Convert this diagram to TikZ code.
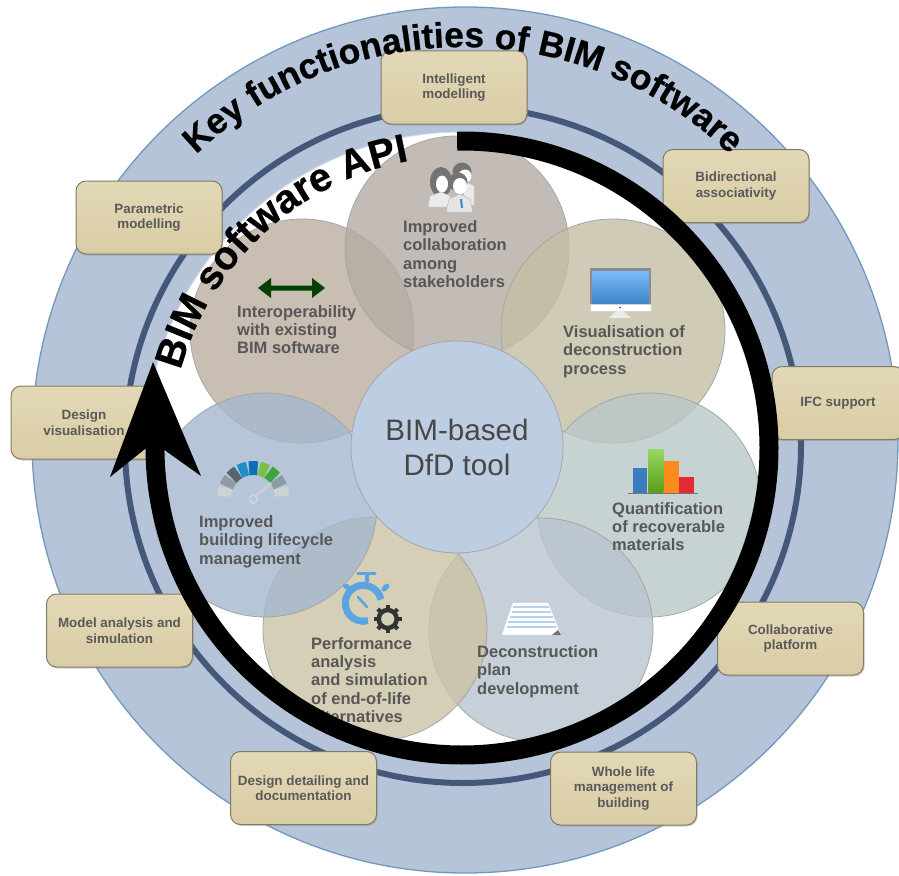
\documentclass[tikz,border=0pt]{standalone}
\usepackage{fontspec}
\setmainfont{Liberation Sans}
\newfontfamily\heavy[BoldFeatures={FakeBold=0.6}]{Liberation Sans}
\usetikzlibrary{shadows,decorations.text,calc}
\definecolor{annulus}{HTML}{B5C4D8}
\definecolor{annulusedge}{HTML}{7397BE}
\definecolor{darkring}{HTML}{44597A}
\definecolor{boxtop}{HTML}{E3D8B6}
\definecolor{boxbot}{HTML}{D9CDA6}
\definecolor{pA}{RGB}{188,174,159}
\definecolor{pB}{RGB}{180,172,164}
\definecolor{pC}{RGB}{197,190,165}
\definecolor{pD}{RGB}{186,199,199}
\definecolor{pE}{RGB}{186,196,207}
\definecolor{pF}{RGB}{204,195,166}
\definecolor{pG}{RGB}{164,184,207}
\definecolor{centre}{HTML}{BDCEE2}
\definecolor{watch}{HTML}{5AA5E0}
\definecolor{gLight}{HTML}{CDD2D2}
\definecolor{gMid}{HTML}{8C9BA4}
\definecolor{gDark}{HTML}{56646E}
\definecolor{gBlueA}{HTML}{1E8FCB}
\definecolor{gBlueB}{HTML}{0B70B8}
\definecolor{gGreenA}{HTML}{7DBE4B}
\definecolor{gGreenB}{HTML}{3FA33F}
\definecolor{scrTop}{HTML}{7ABCF8}
\definecolor{scrBot}{HTML}{3E86C8}
\definecolor{barB}{HTML}{3A7CC0}
\definecolor{barG}{HTML}{6FC61E}
\definecolor{barO}{HTML}{FA8C1E}
\definecolor{barR}{HTML}{E62830}
\definecolor{stripe}{HTML}{B4D2EE}
\tikzset{
  fbox/.style={draw=black!40!boxbot,line width=1pt,rounded corners=10pt,top color=boxtop,bottom color=boxbot,
    minimum width=146pt,minimum height=73pt,inner sep=0pt,align=center,text=black!65,
    font=\fontsize{13.4}{15.5}\selectfont\bfseries,
    drop shadow={shadow xshift=1pt,shadow yshift=-1.5pt,opacity=.35}},
  petal/.style={circle,draw=black!35,line width=.8pt,fill opacity=.8,minimum size=224pt,inner sep=0pt},
  ptext/.style={anchor=west,align=left,inner sep=0pt,text=black!66,font=\fontsize{16.5}{18.4}\selectfont\bfseries},
  bigtext/.style={decorate,decoration={text along path,text align=center,text={#1}}}
}
\begin{document}
\begin{tikzpicture}[x=1pt,y=-1pt]
\useasboundingbox (0,0) rectangle (899,875);
\begin{scope}
\clip (0,0) rectangle (899,875);
\coordinate (oc) at (465,440);
\coordinate (rc) at (463,445);
\coordinate (wc) at (462,448);
\coordinate (tc) at (463,432);
% rings
\node[circle,draw=annulusedge,line width=1.3pt,fill=annulus,minimum size=866pt,inner sep=0pt] (outer) at (oc) {};
\node[circle,draw=darkring,line width=6pt,minimum size=676pt,inner sep=0pt] (ring) at (rc) {};
\node[circle,draw=annulus!60!white,line width=1pt,fill=white,minimum size=632pt,inner sep=0pt] (disc) at (wc) {};
% petals
\node[petal,fill=pA] (interop) at (302,331) {};
\node[petal,fill=pB] (collab) at (457,248) {};
\node[petal,fill=pC] (vis) at (613,331) {};
\node[petal,fill=pD] (quant) at (649,505) {};
\node[petal,fill=pE] (decon) at (541,630) {};
\node[petal,fill=pF] (perf) at (375,629) {};
\node[petal,fill=pG] (life) at (265,505) {};
\node[circle,draw=black!35,line width=.8pt,fill=centre,minimum size=212pt,inner sep=0pt,align=center,text=black!72,
  font=\fontsize{29.6}{35}\selectfont] (hub) at (457,447) {BIM-based\\DfD tool};
% petal texts
\node[ptext] (t1) at (237,329.5) {Interoperability\\with existing\\BIM software};
\node[ptext] (t2) at (403,254) {Improved\\collaboration\\among\\stakeholders};
\node[ptext] (t3) at (563,351.5) {Visualisation of\\deconstruction\\process};
\node[ptext] (t4) at (612,526.5) {Quantification\\of recoverable\\materials};
\node[ptext] (t5) at (477,671.5) {Deconstruction\\plan\\development};
\node[ptext] (t6) at (311,680) {Performance\\analysis\\and simulation\\of end-of-life\\alternatives};
\node[ptext] (t7) at (199,541.5) {Improved\\building lifecycle\\management};
% double arrow icon
\fill[green!25!black] (258,288) -- (271,278) -- (271,285.5) -- (312,285.5) -- (312,278) -- (325,288) -- (312,298) -- (312,290.5) -- (271,290.5) -- (271,298) -- cycle;
% people icon
\fill[black!55] (462,172) circle[radius=9.5pt];
\fill[white] (465,176) circle[radius=6.5pt];
\filldraw[fill=black!8,draw=black!25] (462,180) -- (474,186) -- (474,205) -- (465,205) -- cycle;
\fill[black!55] (441,182) ellipse[x radius=11pt,y radius=15pt];
\fill[white] (442,184) ellipse[x radius=6pt,y radius=8.5pt];
\filldraw[fill=black!8,draw=black!25] (428,207) -- (430,196) -- (441,192) -- (450,196) -- (452,207) -- cycle;
\filldraw[fill=black!10,draw=black!30] (446,212) -- (449,199) -- (460,194) -- (470,199) -- (473,212) -- cycle;
\fill[black!55] (458,182) circle[radius=9.5pt];
\fill[white] (460,186) ellipse[x radius=7pt,y radius=8pt];
\draw[scrBot,line width=2pt] (461,199) -- (462,208);
% monitor icon
\fill[black!45] (590,268) rectangle (651,305);
\shade[top color=scrTop,bottom color=scrBot] (592,271) rectangle (649,303);
\fill[white,draw=black!18] (590,304) rectangle (651,311);
\fill[white!92!black] (616,311) -- (623,311) -- (631,318) -- (609,318) -- cycle;
\fill[black!70] (620,307.5) circle[radius=1pt];
% bar chart icon
\fill[barB] (632.7,468) rectangle (647.3,492.5);
\shade[top color=barG!70!white,bottom color=barG!80!black] (648.3,449) rectangle (663.3,492.5);
\fill[barO] (664,461) rectangle (678.7,492.5);
\fill[barR] (679.3,476.7) rectangle (694.3,492.5);
\draw[black!55,line width=1pt] (627.7,493) -- (698.3,493);
% document icon
\filldraw[fill=white,draw=white!85!black] (512.7,602.7) -- (548.3,602.7) -- (561,635) -- (501.7,635) -- cycle;
\foreach \yy/\xa/\xb in {607/513/549,612/512/551,617/510/553,622/508/555,627/507/556}
  \draw[stripe,line width=2.6pt] (\xa,\yy) -- (\xb,\yy);
\fill[black!55] (552,635) -- (561,635) -- (558,630) -- cycle;
% gauge icon
\coordinate (gc) at (253.3,497);
\foreach \ang/\col in {170/gLight,150/gMid,130/gDark,110/gBlueA,90/gBlueB,70/gGreenA,50/gGreenB,30/gMid,10/gLight}
  \draw[\col,line width=14pt] ([shift={(gc)}]\ang+8.5:29pt) arc[start angle=\ang+8.5,end angle=\ang-8.5,radius=29pt];
\draw[gLight,line width=2.5pt] (271,483) -- (256,496);
\draw[gLight,line width=2pt] (253.5,499) circle[radius=4pt];
% stopwatch icon
\draw[watch,line width=7pt] ([shift={(363.3,603.3)}]12:18pt) arc[start angle=12,end angle=285,radius=18pt];
\draw[watch,line width=3.5pt,line cap=round] (358,573.5) -- (375,573.5);
\draw[watch,line width=4pt] (366.7,574) -- (366.7,582);
\draw[watch,line width=5pt,line cap=round] (345.5,586) -- (349,588);
\draw[watch,line width=5pt,line cap=round] (384,589) -- (387,586);
\draw[watch,line width=2.5pt,line cap=round] (358,597) -- (367,607);
\draw[black!80,line width=4.5pt] (387.7,619) circle[radius=9pt];
\foreach \ang in {0,45,...,315}
  \draw[black!80,line width=4pt] ([shift={(387.7,619)}]\ang:10pt) -- ([shift={(387.7,619)}]\ang:14pt);
% boxes
\node[fbox] (b1) at (454,87.5) {Intelligent\\modelling};
\node[fbox] (b2) at (736,186) {Bidirectional\\associativity};
\node[fbox,minimum width=132pt] (b3) at (838,403) {IFC support};
\node[fbox] (b4) at (790.5,638.5) {Collaborative\\platform};
\node[fbox] (b5) at (623.5,788.5) {Whole life\\management of\\building};
\node[fbox] (b6) at (303.5,788) {Design detailing and\\documentation};
\node[fbox] (b7) at (119.5,630.5) {Model analysis and\\simulation};
\node[fbox] (b8) at (84,422.5) {Design\\visualisation};
\node[fbox] (b9) at (149,217.5) {Parametric\\modelling};
% black arrow
\coordinate (arcstart) at ([shift={(wc)}]90.9:307pt);
\draw[black,line width=19pt] (arcstart) arc[start angle=90.9,end angle=-183,radius=307pt];
\coordinate (tip) at (153,362);
\fill[black] (tip) -- (201,476) -- (163,449) -- (145,449) -- (110,477) -- cycle;
% curved titles
\path[bigtext={|\fontsize{35.5}{35.5}\selectfont\heavy\bfseries|Key functionalities of BIM software}]
  ([shift={(tc)}]134.7:385pt) arc[start angle=134.7,end angle=45.3,radius=385pt];
\path[bigtext={|\fontsize{40}{40}\selectfont\heavy\bfseries|BIM software API}]
  ([shift={(wc)}]168:292pt) arc[start angle=168,end angle=97,radius=292pt];
\end{scope}
\end{tikzpicture}
\end{document}
